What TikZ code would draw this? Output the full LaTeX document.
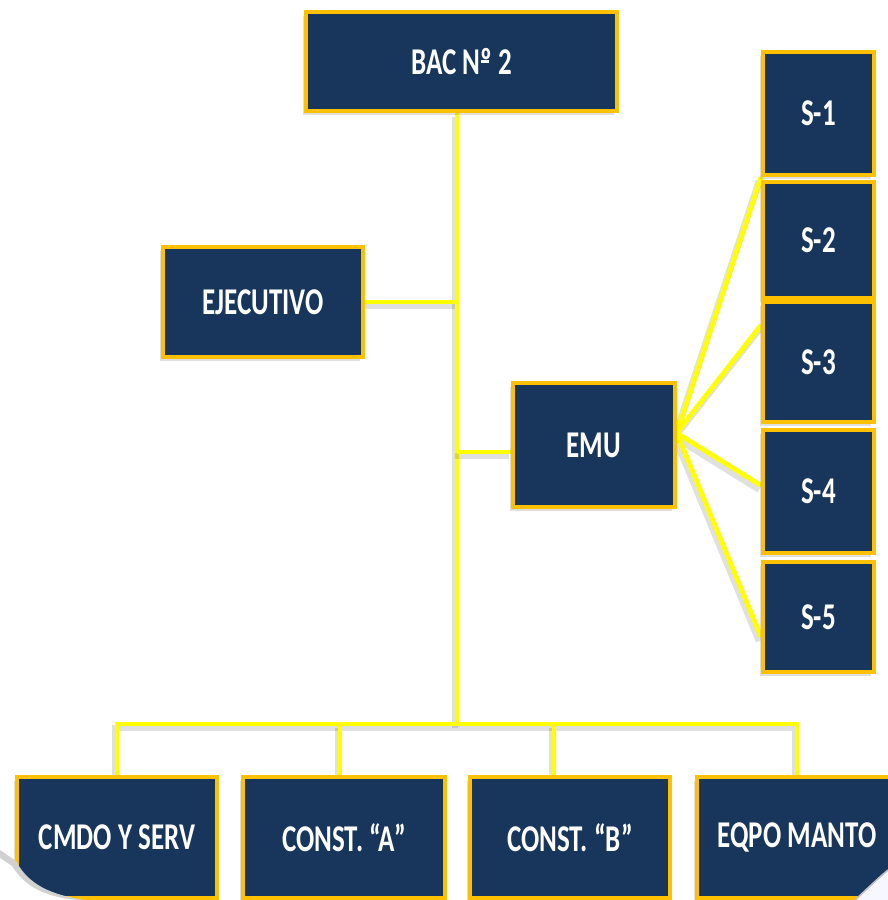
\documentclass[tikz,border=0pt]{standalone}
\usepackage{fontspec}
\setmainfont{Carlito}
\usetikzlibrary{calc,shadows,backgrounds}
\definecolor{navy}{RGB}{24,54,92}
\definecolor{gold}{RGB}{255,192,0}
\definecolor{lineyellow}{RGB}{255,255,0}
\newcommand{\boxtext}[1]{\scalebox{1}[1.4]{\bfseries #1}}
\newcommand{\ordo}{\makebox[0pt][l]{\hspace{.02em}\raisebox{.3em}{\rule{.3em}{.07em}}}º}

\begin{document}
\begin{tikzpicture}[x=0.5pt,y=-0.5pt,
    unit/.style={draw=gold,line width=1.8pt,fill=navy,text=white,inner sep=0pt,
      font=\fontsize{13.5}{16}\selectfont,
      drop shadow={shadow xshift=-1.5pt,shadow yshift=-2pt,opacity=0.25}},
    link/.style={draw=lineyellow,line width=2.4pt,
      preaction={draw=black,opacity=0.12,line width=3.4pt,
        transform canvas={shift={(-1pt,-2pt)}}}}]
    \clip (0,0) rectangle (888,900);

    % mando y estado mayor
    \node[unit,minimum width=155.5pt,minimum height=49.5pt] (bac) at (461.5,61.5) {\boxtext{BAC N\ordo\ 2}};
    \node[unit,minimum width=100pt,minimum height=55pt] (ejec) at (263,302) {\boxtext{EJECUTIVO}};
    \node[unit,minimum width=81pt,minimum height=62pt] (emu) at (594,445) {\boxtext{EMU}};

    \node[unit,minimum width=55.5pt,minimum height=61.5pt] (s1) at (818.5,113.5) {\boxtext{S-1}};
    \node[unit,minimum width=55.5pt,minimum height=58pt] (s2) at (818.5,240) {\boxtext{S-2}};
    \node[unit,minimum width=55.5pt,minimum height=60pt] (s3) at (818.5,362) {\boxtext{S-3}};
    \node[unit,minimum width=55.5pt,minimum height=61.5pt] (s4) at (818.5,491.5) {\boxtext{S-4}};
    \node[unit,minimum width=55.5pt,minimum height=55pt] (s5) at (818.5,617) {\boxtext{S-5}};

    % unidades
    \node[unit,minimum width=100pt,minimum height=60.5pt] (cmdo) at (117,837.5) {\boxtext{CMDO Y SERV}};
    \node[unit,minimum width=101pt,minimum height=60.5pt] (consta) at (344,837.5) {\boxtext{CONST. “A”}};
    \node[unit,minimum width=100pt,minimum height=60.5pt] (constb) at (570,837.5) {\boxtext{CONST. “B”}};
    \node[unit,minimum width=100pt,minimum height=60.5pt] (eqpo) at (797,837.5) {\boxtext{EQPO MANTO}};

    \coordinate (bus) at (457,724);

    \begin{scope}[on background layer]
      \fill[white] (0,0) rectangle (888,900);
      \draw[link] (bac.south -| bus) -- (bus);
      \draw[link] (ejec.east) -- (ejec.east -| bus);
      \draw[link] ([yshift=-3.5pt]emu.west) -- ([yshift=-3.5pt]emu.west -| bus);
      \draw[link] (cmdo.north) |- (eqpo.north |- bus) -- (eqpo.north);
      \draw[link] ([xshift=-2pt]consta.north) -- ([xshift=-2pt]consta.north |- bus);
      \draw[link] ([xshift=-8pt]constb.north) -- ([xshift=-8pt]constb.north |- bus);
      \draw[link] ([yshift=6pt]emu.east) -- (s1.south west);
      \draw[link] ([yshift=6pt]emu.east) -- ([yshift=-12.5pt]s3.north west);
      \draw[link] ([yshift=6pt]emu.east) -- ([yshift=3pt]s4.west);
      \draw[link] ([yshift=6pt]emu.east) -- ([yshift=-10pt]s5.west);
    \end{scope}

    % esquinas del marco
    \fill[black!18] (0,850) -- (16,861) .. controls (28,884) and (50,895) .. (86,900) -- (0,900) -- cycle;
    \fill[white] (0,858) -- (12,866) .. controls (24,886) and (44,897) .. (78,900) -- (0,900) -- cycle;
    \fill[blue!3!white] (888,870) .. controls (876,880) and (866,890) .. (855,900) -- (888,900) -- cycle;
    \draw[black!25,line width=0.8pt] (888,870) .. controls (876,880) and (866,890) .. (855,900);
\end{tikzpicture}
\end{document}
